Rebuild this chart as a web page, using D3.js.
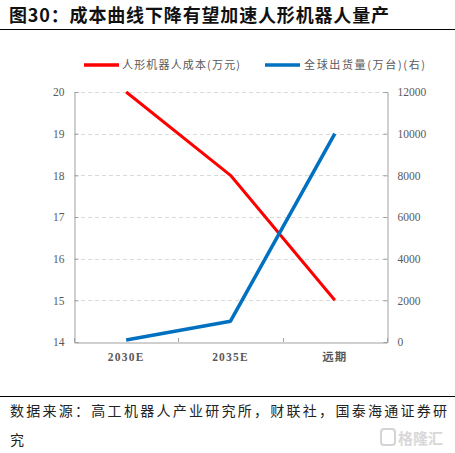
<!DOCTYPE html>
<html><head><meta charset="utf-8">
<script src="https://cdn.jsdelivr.net/npm/d3@7"></script>
<style>
html,body{margin:0;padding:0;background:#fff;}
svg{display:block;}
</style></head>
<body>
<svg id="c" width="455" height="453"></svg>
<script>
const categories = ["2030E", "2035E", "远期"];
const costValues = [20, 18, 15];          // 人形机器人成本(万元)
const shipmentValues = [100, 1000, 10000]; // 全球出货量(万台)(右)
const leftTicks = [14, 15, 16, 17, 18, 19, 20];
const rightTicks = [0, 2000, 4000, 6000, 8000, 10000, 12000];
const seriesNames = ["人形机器人成本(万元)", "全球出货量(万台)(右)"];
const titleText = "图30：成本曲线下降有望加速人形机器人量产";
const sourceLines = ["数据来源：高工机器人产业研究所，财联社，国泰海通证券研", "究"];

(function () {
const svg = d3.select("#c");
const CJK = "'Noto Sans CJK SC','Noto Sans',sans-serif";
const SERIF = "'Liberation Serif','DejaVu Serif',serif";
const axisColor = "#a0a0a0", labelColor = "#595959";

// Title
svg.append("text").attr("x", 9).attr("y", 22)
  .attr("font-family", CJK).attr("font-weight", "bold").attr("font-size", 18)
  .attr("fill", "#111").attr("textLength", 380).attr("lengthAdjust", "spacing")
  .text(titleText);
svg.append("line").attr("x1", 0).attr("x2", 455).attr("y1", 29.5).attr("y2", 29.5)
  .attr("stroke", "#000").attr("stroke-width", 1.2);

// Scales
const pLeft = 74, pRight = 387, pTop = 92, pBottom = 342;
const x = d3.scaleBand().domain(categories).range([pLeft, pRight]).padding(0);
const yL = d3.scaleLinear().domain([14, 20]).range([pBottom, pTop]);
const yR = d3.scaleLinear().domain([0, 12000]).range([pBottom, pTop]);

// Gridlines
svg.append("g").selectAll("line").data(leftTicks.filter(d => d > 14)).join("line")
  .attr("x1", pLeft).attr("x2", pRight)
  .attr("y1", d => Math.round(yL(d)) + 0.5).attr("y2", d => Math.round(yL(d)) + 0.5)
  .attr("stroke", "#d9d9d9").attr("stroke-width", 1).attr("stroke-dasharray", "4,3");

// Left axis
const gL = svg.append("g").attr("transform", `translate(${pLeft + 0.5},0)`)
  .call(d3.axisRight(yL).tickValues(leftTicks).tickSize(4).tickFormat(d3.format("d")));
gL.select(".domain").attr("stroke", axisColor);
gL.selectAll(".tick line").attr("stroke", axisColor);
gL.selectAll(".tick text").attr("x", -10).attr("text-anchor", "end")
  .attr("font-family", SERIF).attr("font-size", 11.5).attr("fill", labelColor);

// Right axis
const gR = svg.append("g").attr("transform", `translate(${pRight + 0.5},0)`)
  .call(d3.axisLeft(yR).tickValues(rightTicks).tickSize(4).tickFormat(d3.format("d")));
gR.select(".domain").attr("stroke", axisColor);
gR.selectAll(".tick line").attr("stroke", axisColor);
gR.selectAll(".tick text").attr("x", 10).attr("text-anchor", "start")
  .attr("font-family", SERIF).attr("font-size", 11.5).attr("fill", labelColor);

// X axis
const gX = svg.append("g").attr("transform", `translate(0,${pBottom + 0.5})`)
  .call(d3.axisBottom(x).tickSize(0).tickSizeOuter(0));
gX.select(".domain").attr("stroke", axisColor);
gX.selectAll(".tick text").attr("dy", 0).attr("y", 18)
  .attr("font-family", (d) => /\d/.test(d) ? SERIF : CJK)
  .attr("font-weight", "bold").attr("letter-spacing", 1.2)
  .attr("font-size", 11.5).attr("fill", labelColor);
// boundary tick marks (upward)
const bounds = categories.map(c => x(c)).concat([x(categories[categories.length - 1]) + x.bandwidth()]);
svg.append("g").selectAll("line").data(bounds).join("line")
  .attr("x1", d => Math.round(d) + 0.5).attr("x2", d => Math.round(d) + 0.5)
  .attr("y1", pBottom).attr("y2", pBottom - 4).attr("stroke", axisColor);

// Lines
const cx = c => x(c) + x.bandwidth() / 2;
svg.append("path").datum(categories.map((c, i) => [cx(c), yL(costValues[i])]))
  .attr("d", d3.line()).attr("fill", "none").attr("stroke", "#ff0000")
  .attr("stroke-width", 3).attr("stroke-linejoin", "round");
svg.append("path").datum(categories.map((c, i) => [cx(c), yR(shipmentValues[i])]))
  .attr("d", d3.line()).attr("fill", "none").attr("stroke", "#0070c0")
  .attr("stroke-width", 3.5).attr("stroke-linejoin", "round");

// Legend
const legend = [
  { name: seriesNames[0], color: "#ff0000", x0: 84, tx: 122, len: 118 },
  { name: seriesNames[1], color: "#0070c0", x0: 265, tx: 304, len: 121 }
];
const lg = svg.append("g");
legend.forEach(l => {
  lg.append("line").attr("x1", l.x0).attr("x2", l.x0 + 35).attr("y1", 65).attr("y2", 65)
    .attr("stroke", l.color).attr("stroke-width", 3.5);
  lg.append("text").attr("x", l.tx).attr("y", 69)
    .attr("font-family", CJK).attr("font-size", 11).attr("fill", labelColor)
    .attr("textLength", l.len).attr("lengthAdjust", "spacing").text(l.name);
});

// Bottom rule and source
svg.append("line").attr("x1", 0).attr("x2", 455).attr("y1", 396.5).attr("y2", 396.5)
  .attr("stroke", "#000").attr("stroke-width", 1.2);
svg.append("text").attr("x", 10).attr("y", 416)
  .attr("font-family", CJK).attr("font-size", 14).attr("fill", "#222")
  .attr("textLength", 437).attr("lengthAdjust", "spacing").text(sourceLines[0]);
svg.append("text").attr("x", 10).attr("y", 445)
  .attr("font-family", CJK).attr("font-size", 14).attr("fill", "#222").text(sourceLines[1]);

// Watermark
const wm = svg.append("g").attr("opacity", 0.9);
wm.append("rect").attr("x", 381).attr("y", 429).attr("width", 14).attr("height", 16).attr("rx", 3)
  .attr("fill", "none").attr("stroke", "#d0d0d0").attr("stroke-width", 2);
wm.append("text").attr("x", 398).attr("y", 444)
  .attr("font-family", CJK).attr("font-weight", "bold").attr("font-size", 15).attr("fill", "#d4d4d4")
  .text("格隆汇");
})();
</script>
</body></html>
